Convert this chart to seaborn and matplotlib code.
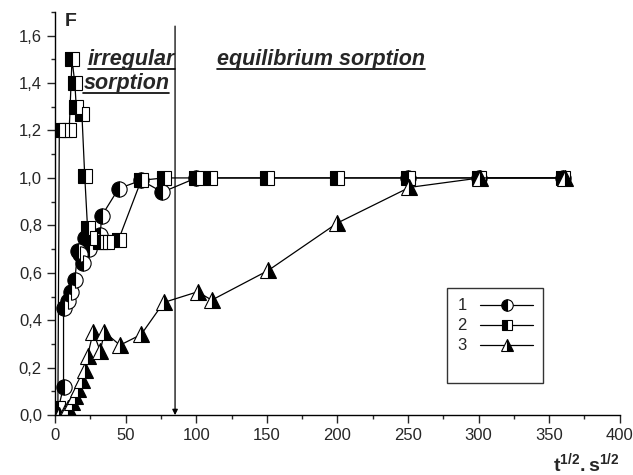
import numpy as np
import pandas as pd
import seaborn as sns
import matplotlib.pyplot as plt
from matplotlib.lines import Line2D
from matplotlib.ticker import MultipleLocator, FuncFormatter

# series 1 - circles
c_x = [2, 6, 6, 9, 11, 14, 16, 18, 20, 21, 24, 28, 32, 33, 45, 61, 76, 100, 250, 300, 360]
c_y = [0.02, 0.12, 0.45, 0.48, 0.52, 0.57, 0.69, 0.68, 0.64, 0.745, 0.70, 0.74, 0.76, 0.84, 0.955, 0.99, 0.94, 1.0, 1.0, 1.0, 1.0]
# series 2 - squares
s_x = [2, 3, 7, 10, 12, 14, 15, 19, 21, 23, 25, 32, 34, 37, 45, 61, 77, 100, 110, 150, 200, 250, 300, 360]
s_y = [0.03, 1.2, 1.2, 1.2, 1.5, 1.4, 1.3, 1.27, 1.01, 0.79, 0.745, 0.73, 0.73, 0.73, 0.74, 0.99, 1.0, 1.0, 1.0, 1.0, 1.0, 1.0, 1.0, 1.0]
# series 3 - triangles
t_x = [3, 7, 9, 12, 14, 16, 19, 21, 23, 27, 32, 35, 46, 61, 77, 101, 111, 151, 200, 251, 301, 361]
t_y = [0.0, 0.015, 0.03, 0.055, 0.08, 0.11, 0.15, 0.19, 0.25, 0.35, 0.27, 0.35, 0.295, 0.34, 0.475, 0.52, 0.485, 0.61, 0.81, 0.96, 1.0, 1.0]

legend_labels = ['1', '2', '3']
arrow_x = 85

sns.set_style('ticks')
plt.rcParams['font.family'] = ['Liberation Sans', 'DejaVu Sans']
plt.rcParams['mathtext.fontset'] = 'custom'
plt.rcParams['mathtext.bf'] = 'Liberation Sans:bold'
plt.rcParams['mathtext.rm'] = 'Liberation Sans'

fig = plt.figure(figsize=(6.33, 4.75), dpi=100)
ax = fig.add_axes([0.087, 0.126, 0.892, 0.849])

common = dict(estimator=None, sort=False, color='black', linewidth=0.9,
              markeredgecolor='black', markeredgewidth=0.8,
              markerfacecolor='black', markerfacecoloralt='white', ax=ax)

sns.lineplot(x='x', y='y', data=pd.DataFrame({'x': c_x, 'y': c_y}),
             marker='o', markersize=11, fillstyle='left', label=legend_labels[0], **common)
sns.lineplot(x='x', y='y', data=pd.DataFrame({'x': s_x, 'y': s_y}),
             marker='s', markersize=9.5, fillstyle='left', label=legend_labels[1], **common)
sns.lineplot(x='x', y='y', data=pd.DataFrame({'x': t_x, 'y': t_y}),
             marker='^', markersize=12, fillstyle='right', label=legend_labels[2], **common)

ax.set_xlim(0, 400)
ax.set_ylim(0, 1.7)
ax.xaxis.set_major_locator(MultipleLocator(50))
ax.xaxis.set_minor_locator(MultipleLocator(25))
ax.yaxis.set_major_locator(MultipleLocator(0.2))
ax.yaxis.set_minor_locator(MultipleLocator(0.1))
ax.yaxis.set_major_formatter(FuncFormatter(lambda v, p: ('%.1f' % v).replace('.', ',')))
ax.tick_params(which='major', length=6, width=1, labelsize=12, direction='out')
ax.tick_params(which='minor', length=3, width=1, direction='out')
sns.despine(ax=ax)
for sp in ax.spines.values():
    sp.set_color('black')
    sp.set_linewidth(1)

ax.set_xlabel(r'$\mathbf{t^{1/2}.s^{1/2}}$', fontsize=14, loc='right', labelpad=6)
ax.set_ylabel('')

# vertical divider with arrow
ax.annotate('', xy=(arrow_x, 0), xytext=(arrow_x, 1.64),
            arrowprops=dict(arrowstyle='-|>', color='black', lw=0.9, mutation_scale=8,
                            shrinkA=0, shrinkB=0))

ax.text(7, 1.66, 'F', fontsize=14, fontweight='bold', ha='left', va='center')
texts = [
    ax.text(23, 1.50, 'irregular', fontsize=15.5, fontweight='bold', style='italic', ha='left', va='center'),
    ax.text(20, 1.40, 'sorption', fontsize=15.5, fontweight='bold', style='italic', ha='left', va='center'),
    ax.text(115, 1.50, 'equilibrium sorption', fontsize=15.5, fontweight='bold', style='italic', ha='left', va='center'),
]

# underline the labels
fig.canvas.draw()
renderer = fig.canvas.get_renderer()
inv = ax.transData.inverted()
for t in texts:
    bb = t.get_window_extent(renderer)
    (x0, y0), (x1, _) = inv.transform([(bb.x0, bb.y0 + 1), (bb.x1, bb.y0 + 1)])
    ax.plot([x0, x1], [y0, y0], color='black', lw=1.2)

handles, labels = ax.get_legend_handles_labels()
handles.append(Line2D([], [], color='none'))
labels.append(' ')
leg = ax.legend(handles, labels, loc='upper left', bbox_to_anchor=(0.68, 0.335),
                markerfirst=False, handlelength=3.2, markerscale=0.75, fontsize=12,
                frameon=True, fancybox=False, edgecolor='black', borderpad=0.6,
                labelspacing=0.3, handletextpad=0.8)
leg.get_frame().set_linewidth(1)

fig.savefig('out.png', dpi=100)
